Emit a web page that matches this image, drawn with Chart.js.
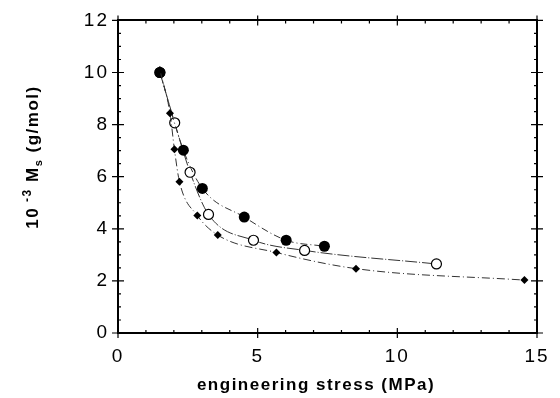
<!DOCTYPE html>
<html>
<head>
<meta charset="utf-8">
<script src="https://cdn.jsdelivr.net/npm/chart.js@4/dist/chart.umd.min.js"></script>
<style>
  html, body { margin: 0; padding: 0; background: #fff; }
  #wrap { width: 560px; height: 398px; position: relative; }
</style>
</head>
<body>
<div id="wrap"><canvas id="chart"></canvas></div>
<script>
// data
const filledX = [1.5, 2.34, 3.02, 4.52, 6.02, 7.39];
const filledY = [10.0, 7.02, 5.55, 4.45, 3.56, 3.33];
const openX = [1.5, 2.03, 2.58, 3.24, 4.85, 6.68, 11.4];
const openY = [10.0, 8.07, 6.17, 4.55, 3.56, 3.17, 2.65];
const diamX = [1.5, 1.86, 2.02, 2.2, 2.84, 3.57, 5.67, 8.52, 14.55];
const diamY = [10.1, 8.44, 7.05, 5.81, 4.51, 3.76, 3.09, 2.47, 2.03];

const xTicks = [0, 5, 10, 15];
const yTicks = [0, 2, 4, 6, 8, 10, 12];

const FONT = "'Liberation Sans', Arial, Helvetica, sans-serif";
const INK = '#000';

const toPts = (xs, ys) => xs.map((x, i) => ({ x: x, y: ys[i] }));

// ticks crossing the frame + minor ticks, axis titles
const frameTicks = {
  id: 'frameTicks',
  beforeDraw(chart) {
    chart.ctx.letterSpacing = '2px';
  },
  afterDraw(chart) {
    const ctx = chart.ctx;
    const a = chart.chartArea;
    const sx = chart.scales.x, sy = chart.scales.y;
    ctx.save();
    ctx.strokeStyle = INK;
    ctx.lineWidth = 1.2;
    ctx.beginPath();
    for (let v = 0; v <= 15; v += 1) {
      const px = sx.getPixelForValue(v);
      const major = v % 5 === 0;
      const out = major ? 5 : 0, inn = major ? 5 : 3;
      ctx.moveTo(px, a.bottom + out); ctx.lineTo(px, a.bottom - inn);
      ctx.moveTo(px, a.top - out); ctx.lineTo(px, a.top + inn);
    }
    for (let v = 0; v <= 12; v += 0.5) {
      const py = sy.getPixelForValue(v);
      const major = v % 2 === 0;
      const out = major ? 6 : 0, inn = major ? 6 : 3;
      ctx.moveTo(a.left - out, py); ctx.lineTo(a.left + inn, py);
      ctx.moveTo(a.right + out, py); ctx.lineTo(a.right - inn, py);
    }
    ctx.stroke();

    // axis titles
    ctx.fillStyle = INK;
    ctx.letterSpacing = '1.5px';
    ctx.font = 'bold 17px ' + FONT;
    ctx.textAlign = 'center';
    ctx.textBaseline = 'middle';
    ctx.fillText('engineering stress (MPa)', 316, 385);

    // y title with super/subscript
    const parts = [
      { t: '10', s: 17, dy: 0 },
      { t: ' -3', s: 12, dy: -7 },
      { t: ' M', s: 17, dy: 0 },
      { t: 's', s: 11, dy: 4 },
      { t: ' (g/mol)', s: 17, dy: 0 }
    ];
    let total = 0;
    parts.forEach(p => { ctx.font = 'bold ' + p.s + 'px ' + FONT; p.w = ctx.measureText(p.t).width; total += p.w; });
    ctx.translate(32, 157);
    ctx.rotate(-Math.PI / 2);
    ctx.textAlign = 'left';
    ctx.textBaseline = 'alphabetic';
    let cx = -total / 2;
    parts.forEach(p => {
      ctx.font = 'bold ' + p.s + 'px ' + FONT;
      ctx.fillText(p.t, cx, 6 + p.dy);
      cx += p.w;
    });
    ctx.restore();
  }
};

const frameAxis = (pos, extra) => Object.assign({
  position: pos,
  grid: { display: false, drawTicks: false },
  border: { display: true, color: INK, width: 2 },
}, extra);

new Chart(document.getElementById('chart'), {
  type: 'scatter',
  data: {
    datasets: [
      {
        label: 'diamonds',
        data: toPts(diamX, diamY),
        showLine: true,
        borderColor: '#333',
        borderWidth: 1,
        borderDash: [8, 3, 1, 3],
        cubicInterpolationMode: 'monotone',
        pointStyle: 'rectRot',
        pointRadius: 4,
        pointBackgroundColor: INK,
        pointBorderColor: INK,
        pointBorderWidth: 0
      },
      {
        label: 'filled circles',
        data: toPts(filledX, filledY),
        showLine: true,
        borderColor: '#333',
        borderWidth: 1,
        borderDash: [7, 3, 1, 3],
        cubicInterpolationMode: 'monotone',
        pointStyle: 'circle',
        pointRadius: 5.5,
        pointBackgroundColor: INK,
        pointBorderColor: INK,
        pointBorderWidth: 0
      },
      {
        label: 'open circles',
        data: toPts(openX, openY),
        showLine: true,
        borderColor: '#333',
        borderWidth: 1,
        borderDash: [12, 2, 1, 2],
        cubicInterpolationMode: 'monotone',
        pointStyle: 'circle',
        pointRadius: 5,
        pointBackgroundColor: '#fff',
        pointBorderColor: INK,
        pointBorderWidth: 1.2
      }
    ]
  },
  options: {
    responsive: true,
    maintainAspectRatio: false,
    animation: false,
    layout: { padding: 0 },
    plugins: { legend: { display: false }, tooltip: { enabled: false } },
    scales: {
      x: frameAxis('bottom', {
        type: 'linear', min: 0, max: 15,
        afterBuildTicks: s => { s.ticks = xTicks.map(v => ({ value: v })); },
        ticks: { color: INK, padding: 12, maxRotation: 0, font: { family: FONT, size: 19 } },
        afterFit: s => { s.height = 65; }
      }),
      x2: frameAxis('top', {
        type: 'linear', min: 0, max: 15,
        ticks: { display: false },
        afterFit: s => { s.height = 17; }
      }),
      y: frameAxis('left', {
        type: 'linear', min: 0, max: 12,
        afterBuildTicks: s => { s.ticks = yTicks.map(v => ({ value: v })); },
        ticks: { color: INK, padding: 9, font: { family: FONT, size: 19 } },
        afterFit: s => { s.width = 118; }
      }),
      y2: frameAxis('right', {
        type: 'linear', min: 0, max: 12,
        ticks: { display: false },
        afterFit: s => { s.width = 23; }
      })
    }
  },
  plugins: [frameTicks]
});
</script>
</body>
</html>
